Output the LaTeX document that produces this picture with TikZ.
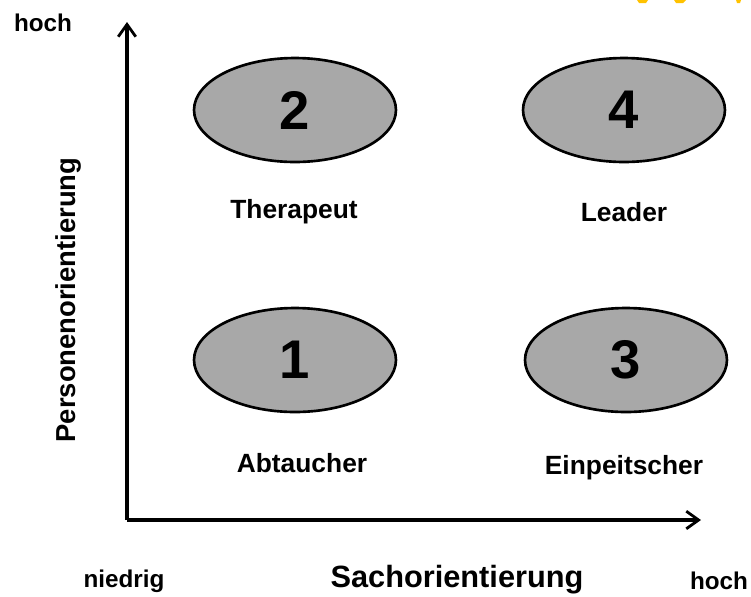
\documentclass[tikz,border=0pt]{standalone}
\usepackage{fontspec}
\setmainfont{Liberation Sans}
\usetikzlibrary{shapes.geometric,positioning,arrows.meta}
\definecolor{quadgray}{rgb}{0.66, 0.66, 0.66}
\definecolor{markorange}{rgb}{1.0, 0.76, 0.0}
\tikzset{
  quadrant/.style={ellipse,draw=black,line width=1.5pt,fill=quadgray,
    minimum width=4.04cm,minimum height=2.08cm,
    font=\fontsize{31}{31}\selectfont\bfseries},
  typlabel/.style={font=\fontsize{15}{17}\selectfont\bfseries},
  endlabel/.style={font=\fontsize{13.8}{15}\selectfont\bfseries}
}

\begin{document}
\begin{tikzpicture}[x=0.02cm,y=-0.02cm,>={Straight Barb[length=7pt,width=10pt,line width=1.6pt]}]
\useasboundingbox (0,0) rectangle (751,596);

% Axes
\coordinate (origin) at (127,520);
\coordinate (ytip) at (127,22);
\coordinate (xtip) at (701,520);
\draw[line width=2.2pt,->] (origin) -- (ytip);
\draw[line width=2.2pt,->] (origin) -- (xtip);

% Quadrants
\node[quadrant] (q2) at (295,110) {2};
\node[quadrant] (q4) at (624,110) {4};
\node[quadrant] (q1) at (295,360) {1};
\node[quadrant] (q3) at (626,360) {3};

% Names of the types
\node[typlabel] (therapeut) at (294,212) {Therapeut};
\node[typlabel] (leader) at (624,212) {Leader};
\node[typlabel] (abtaucher) at (302,463) {Abtaucher};
\node[typlabel] (einpeitscher) at (624,468) {Einpeitscher};

% Axis labels
\node[endlabel] (yhoch) at (43,23) {hoch};
\node[font=\fontsize{15.6}{17}\selectfont\bfseries,rotate=90] (ylabel) at (68,300) {Personenorientierung};
\node[endlabel] (niedrig) at (124,581) {niedrig};
\node[font=\fontsize{17.5}{19}\selectfont\bfseries] (xlabel) at (457,580) {Sachorientierung};
\node[endlabel] (xhoch) at (719,581) {hoch};

% cut off marks at the top
\fill[markorange] (637,0) -- (648,0) -- (646,3) -- (639,3) -- cycle;
\fill[markorange] (674,0) -- (686,0) -- (683,3) -- (676,3) -- cycle;
\fill[markorange] (736,0) -- (741,0) -- (740,3) -- (737,3) -- cycle;
\end{tikzpicture}
\end{document}
